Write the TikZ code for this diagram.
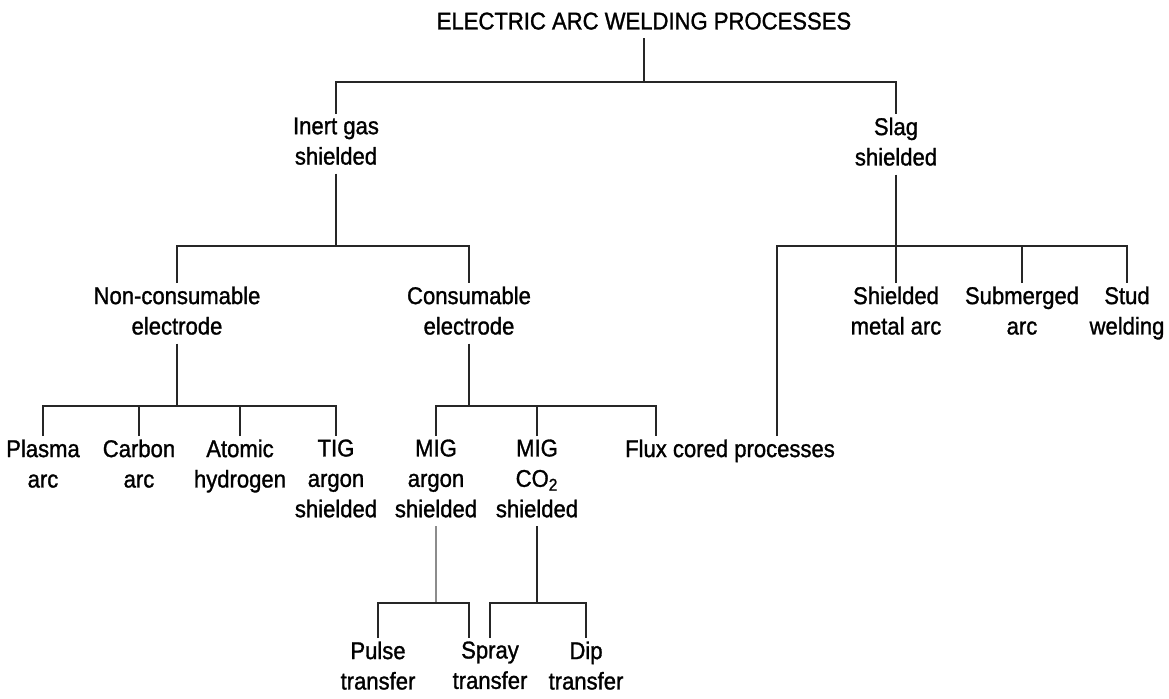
\documentclass[tikz,border=0pt]{standalone}
\usepackage{fontspec}
\setmainfont[FakeStretch=0.91,FakeBold=1.2]{Liberation Sans}
\usetikzlibrary{calc}
\tikzset{
  edge/.style={line width=1.3pt, color=black!85},
  down/.style={shorten <=3pt},
  lbl/.style={align=center, inner sep=0pt, outer sep=2pt, anchor=north,
              font=\fontsize{13.8}{17.3}\selectfont},
  }

\begin{document}
\begin{tikzpicture}[x=0.02cm, y=-0.02cm]
  \useasboundingbox (0,0) rectangle (1169,698);

  \node[lbl] (title) at (644,9) {ELECTRIC ARC WELDING PROCESSES};

  % first level
  \node[lbl] (inert) at (336,114) {Inert gas\\shielded};
  \node[lbl] (slag)  at (896,114) {Slag\\shielded};

  % second level
  \node[lbl] (noncon) at (177,283)  {Non-consumable\\electrode};
  \node[lbl] (con)    at (469,283)  {Consumable\\electrode};
  \node[lbl] (sma)    at (896,283)  {Shielded\\metal arc};
  \node[lbl] (subarc) at (1022,283) {Submerged\\arc};
  \node[lbl] (stud)   at (1127,283) {Stud\\welding};

  % third level
  \node[lbl] (plasma) at (43,436)  {Plasma\\arc};
  \node[lbl] (carbon) at (139,436) {Carbon\\arc};
  \node[lbl] (atomic) at (240,436) {Atomic\\hydrogen};
  \node[lbl] (tig)    at (336,436) {TIG\\argon\\shielded};
  \node[lbl] (migar)  at (436,436) {MIG\\argon\\shielded};
  \node[lbl] (migco)  at (537,436) {MIG\\CO\textsubscript{2}\\shielded};
  \node[lbl] (flux)   at (730,436) {Flux cored processes};

  % metal transfer
  \node[lbl] (pulse) at (378,638) {Pulse\\transfer};
  \node[lbl] (spray) at (490,638) {Spray\\transfer};
  \node[lbl] (dip)   at (586,638) {Dip\\transfer};

  % junctions on the bars
  \coordinate (j0) at (644,82);
  \coordinate (j1) at (336,246);
  \coordinate (j2) at (896,246);
  \coordinate (j3) at (177,406);
  \coordinate (j4) at (469,406);
  \coordinate (j5) at (436,603);
  \coordinate (j6) at (537,603);
  % free ends above flux cored and spray
  \coordinate (fluxa)  at (656,436);
  \coordinate (fluxb)  at (777,436);
  \coordinate (sprayl) at (469,638);

  \draw[edge,down] (title.south) -- (j0);
  \draw[edge] (inert.north) |- (j0) -| (slag.north);

  \draw[edge,down] (inert.south) -- (j1);
  \draw[edge] (noncon.north) |- (j1) -| (con.north);

  \draw[edge,down] (slag.south) -- (j2);
  \draw[edge] (fluxb) |- (j2) -| (stud.north);
  \draw[edge] (j2) -- (sma.north);
  \draw[edge] (subarc.north) -- (subarc.north |- j2);

  \draw[edge,down] (noncon.south) -- (j3);
  \draw[edge] (plasma.north) |- (j3) -| (tig.north);
  \draw[edge] (carbon.north) -- (carbon.north |- j3);
  \draw[edge] (atomic.north) -- (atomic.north |- j3);

  \draw[edge,down] (con.south) -- (j4);
  \draw[edge] (migar.north) |- (j4) -| (fluxa);
  \draw[edge] (migco.north) -- (migco.north |- j4);

  \draw[edge,down,color=black!45] (migar.south) -- (j5);
  \draw[edge] (pulse.north) |- (j5) -| (sprayl);
  \draw[edge,down] (migco.south) -- (j6);
  \draw[edge] (spray.north) |- (j6) -| (dip.north);
\end{tikzpicture}
\end{document}
